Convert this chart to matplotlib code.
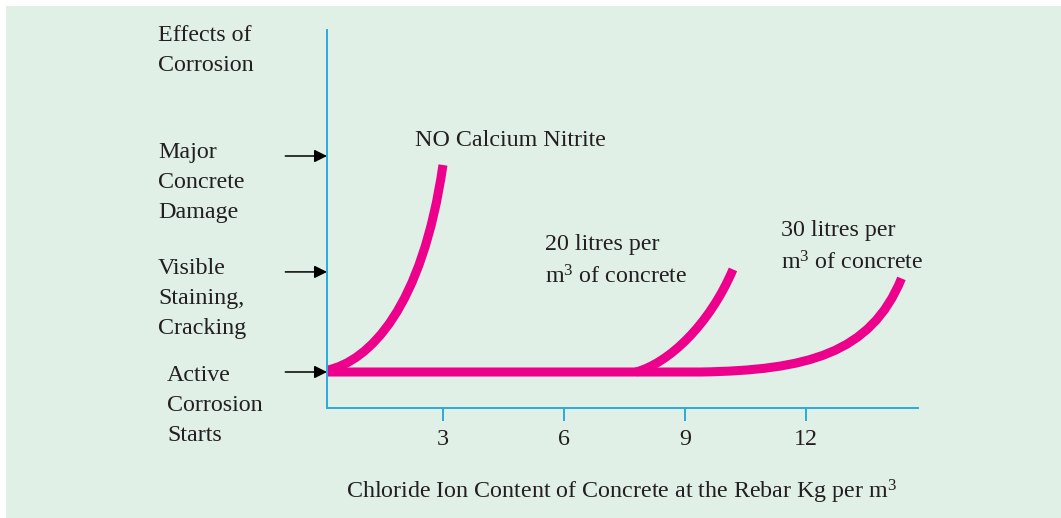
import matplotlib
matplotlib.use('Agg')
import matplotlib.pyplot as plt
from matplotlib.patches import Rectangle, PathPatch
from matplotlib.path import Path

W, H = 1061, 518
plt.rcParams['font.family'] = ['Liberation Serif', 'DejaVu Serif']
plt.rcParams['mathtext.fontset'] = 'custom'
plt.rcParams['mathtext.rm'] = 'Liberation Serif'
plt.rcParams['mathtext.it'] = 'Liberation Serif:italic'
plt.rcParams['mathtext.bf'] = 'Liberation Serif:bold'

# chloride content (kg/m3) vs effect level, as cubic bezier control points
no_nitrite = [(0.14, 1.05), (1.2, 1.3), (2.5, 2.8), (3.01, 6.75)]
litres20 = [(7.79, 1.0), (8.6, 1.25), (9.6, 2.3), (10.19, 3.85)]
litres30_flat = [(0.14, 1.0), (9.4, 1.0)]
litres30 = [(9.4, 1.0), (12.0, 1.05), (13.6, 1.5), (14.36, 3.6)]

level_y = [1.0, 3.78, 7.0]
level_labels = ['Active\nCorrosion\nStarts', 'Visible\nStaining,\nCracking',
                'Major\nConcrete\nDamage']
xticks = [3, 6, 9, 12]

pink = '#ec008c'
blue = '#29abe2'
ink = '#231f20'


def fpos(x, y):
    return x / W, 1 - y / H


fig = plt.figure(figsize=(W / 100, H / 100), dpi=100, facecolor='white')
fig.patches.append(Rectangle(fpos(6, 518), (W - 6) / W, (518 - 6) / H,
                             transform=fig.transFigure, facecolor='#e0f0e6',
                             edgecolor='none', zorder=-5))

l, b = fpos(327, 408)
ax = fig.add_axes([l, b, (918 - 327) / W, (408 - 30) / H])
ax.set_zorder(2)
ax.set_facecolor('none')
ax.set_xlim(0.14, 14.77)
ax.set_ylim(0, 10.5)

for s in ['top', 'right']:
    ax.spines[s].set_visible(False)
for s in ['left', 'bottom']:
    ax.spines[s].set_color(blue)
    ax.spines[s].set_linewidth(1.4)

fs = 17.3
ax.set_xticks(xticks)
ax.set_xticklabels([str(t) for t in xticks], fontsize=fs, color=ink)
ax.tick_params(axis='x', direction='out', length=9, width=1.4, color=blue, pad=6)
ax.set_yticks([])

lw = 6.5
curve = [Path.MOVETO, Path.CURVE4, Path.CURVE4, Path.CURVE4]
paths = [
    Path(litres30_flat + litres30[1:], [Path.MOVETO, Path.LINETO] + curve[1:]),
    Path(litres20, curve),
    Path(no_nitrite, curve),
]
for p in paths:
    ax.add_patch(PathPatch(p, facecolor='none', edgecolor=pink, lw=lw,
                           capstyle='butt', joinstyle='round', clip_on=False))

for yv in level_y:
    ax.annotate('', xy=(0.14, yv), xytext=(-30, 0), textcoords='offset points',
                arrowprops=dict(arrowstyle='-|>', color='black', lw=1.1,
                                mutation_scale=19, shrinkA=0, shrinkB=0),
                annotation_clip=False)

ls = 1.55
fig.text(*fpos(158, 25), 'Effects of\nCorrosion', fontsize=fs, color=ink,
         va='top', linespacing=ls)
for lab, ytop, xl in zip(level_labels, [365, 258, 142], [167, 158, 158]):
    fig.text(*fpos(xl, ytop), lab, fontsize=fs, color=ink, va='top',
             linespacing=ls)

fig.text(*fpos(415, 141), 'NO Calcium Nitrite', fontsize=fs, color=ink, va='center')
fig.text(*fpos(545, 234), '20 litres per\nm$^3$ of concrete', fontsize=fs, color=ink,
         va='top', linespacing=ls)
fig.text(*fpos(781, 220), '30 litres per\nm$^3$ of concrete', fontsize=fs, color=ink,
         va='top', linespacing=ls)
fig.text(*fpos(346, 492), 'Chloride Ion Content of Concrete at the Rebar Kg per m$^3$',
         fontsize=fs, color=ink, va='center')

fig.savefig('out.png', dpi=100, facecolor='white')
